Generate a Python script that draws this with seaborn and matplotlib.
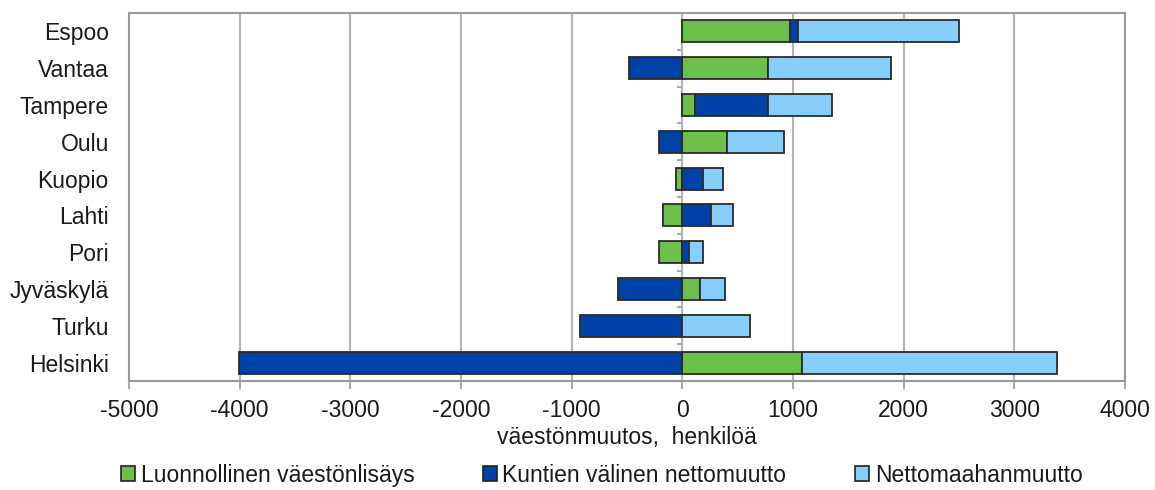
import numpy as np
import pandas as pd
import seaborn as sns
import matplotlib.pyplot as plt
from matplotlib.patches import Patch

cities = ['Espoo', 'Vantaa', 'Tampere', 'Oulu', 'Kuopio', 'Lahti', 'Pori',
          'Jyväskylä', 'Turku', 'Helsinki']
luonnollinen = [975, 770, 110, 404, -57, -172, -208, 157, 0, 1083]
kuntien_valinen = [70, -486, 662, -211, 190, 260, 57, -582, -923, -4005]
nettomaahanmuutto = [1455, 1112, 583, 513, 175, 202, 127, 229, 612, 2299]

series = ['Luonnollinen väestönlisäys', 'Kuntien välinen nettomuutto', 'Nettomaahanmuutto']
colors = ['#6cc04a', '#0041a8', '#87cefa']

sns.set_style('white')
plt.rcParams['font.family'] = ['Liberation Sans', 'DejaVu Sans']
plt.rcParams['axes.unicode_minus'] = False
fs = 16.5

fig = plt.figure(figsize=(11.55, 4.9), dpi=100)
ax = fig.add_axes([129 / 1155, 1 - 381 / 490, 996 / 1155, 368 / 490])

pos = np.zeros(len(cities))
neg = np.zeros(len(cities))
for name, vals, col in zip(series, [luonnollinen, kuntien_valinen, nettomaahanmuutto], colors):
    v = np.array(vals, dtype=float)
    left = np.where(v >= 0, pos, neg)
    df = pd.DataFrame({'city': cities, 'value': v})
    sns.barplot(data=df, x='value', y='city', order=cities, orient='h',
                color=col, saturation=1, width=0.6, left=left,
                edgecolor='#2b2b2b', linewidth=1.3, ax=ax, zorder=3)
    pos += np.where(v >= 0, v, 0)
    neg += np.where(v < 0, v, 0)

ax.set_xlim(-5000, 4000)
ax.set_ylim(len(cities) - 0.5, -0.5)
ax.set_xticks(range(-5000, 4001, 1000))
ax.grid(axis='x', color='#b4b4b4', linewidth=1.5, zorder=0)
ax.grid(axis='y', visible=False)
for s in ax.spines.values():
    s.set_color('#999999')
    s.set_linewidth(1.5)

# small ticks on the category axis at zero
ax.hlines(np.arange(len(cities) - 1) + 0.5, -50, 0, color='#aaaaaa', linewidth=1.5, zorder=2)

ax.tick_params(axis='x', bottom=True, length=6, width=1.5, color='#aaaaaa',
               labelsize=fs, pad=7, labelcolor='#1a1a1a')
ax.tick_params(axis='y', left=False, labelsize=fs, pad=11, labelcolor='#1a1a1a')
ax.set_ylabel('')
ax.set_xlabel('väestönmuutos,  henkilöä', fontsize=fs, labelpad=3, color='#1a1a1a')

handles = [Patch(facecolor=c, edgecolor='#222222', linewidth=1.2) for c in colors]
fig.legend(handles, series, loc='center', bbox_to_anchor=(0.521, 0.03), ncol=3,
           frameon=False, fontsize=fs, columnspacing=3.0, handlelength=0.6,
           handleheight=0.6, handletextpad=0.25, labelcolor='#1a1a1a')

fig.savefig('out.png', dpi=100)
